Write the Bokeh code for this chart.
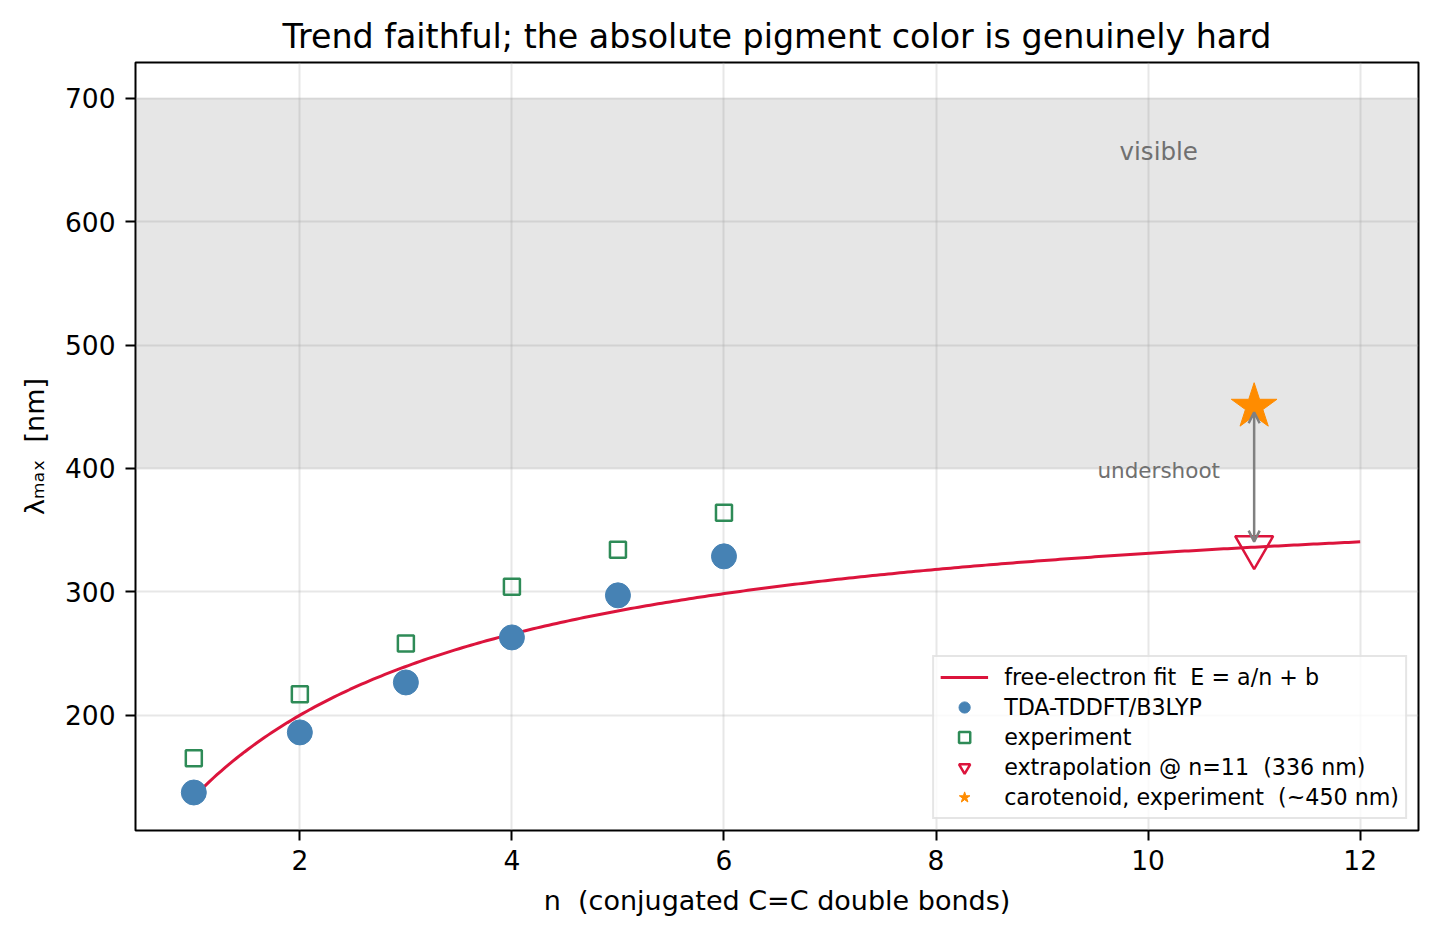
import numpy as np
from bokeh.plotting import figure
from bokeh.models import (Range1d, BoxAnnotation, Arrow, OpenHead, Legend, LegendItem,
                          FixedTicker, ColumnDataSource)
from bokeh.core.properties import value
from bokeh.embed import file_html
from bokeh.resources import INLINE

# ---------------- data ----------------
n_points = [1, 2, 3, 4, 5, 6]
tda_nm = [137.3, 186.0, 226.5, 263.0, 297.1, 328.7]   # TDA-TDDFT/B3LYP
exp_nm = [165, 217, 258, 304, 334, 364]               # experiment
n_extrap = 11
carotenoid_nm = 450                                    # carotenoid, experiment
visible_lo, visible_hi = 400, 700
x_ticks = [2, 4, 6, 8, 10, 12]
y_ticks = [200, 300, 400, 500, 600, 700]
n_fit_max = 12

HC = 1239.84  # eV nm
# free-electron fit E = a/n + b on the TDA energies
a, b = np.polyfit(1.0 / np.array(n_points, float), HC / np.array(tda_nm, float), 1)
n_fit = np.linspace(1, n_fit_max, 300)
lam_fit = HC / (a / n_fit + b)
lam_extrap = HC / (a / n_extrap + b)

FONT = "DejaVu Sans"
NB = "\u00a0"

p = figure(width=1437, height=938, output_backend="svg", toolbar_location=None,
           x_range=Range1d(0.45, 12.55), y_range=Range1d(106.5, 729),
           min_border_left=135, min_border_right=19, min_border_top=62, min_border_bottom=108)

p.title.text = "Trend faithful; the absolute pigment color is genuinely hard"
p.title.text_font = FONT
p.title.text_font_size = "33.3px"
p.title.text_font_style = "normal"
p.title.align = "center"
p.title.text_color = "black"
p.title.standoff = 13

p.outline_line_color = "black"
p.outline_line_width = 2
p.background_fill_color = "white"
p.border_fill_color = "white"

for ax in (p.xaxis[0], p.yaxis[0]):
    ax.major_label_text_font = FONT
    ax.major_label_text_font_size = "26.5px"
    ax.major_label_text_color = "black"
    ax.axis_label_text_font = FONT
    ax.axis_label_text_font_size = "27px"
    ax.axis_label_text_font_style = "normal"
    ax.axis_label_text_color = "black"
    ax.axis_line_color = None
    ax.major_tick_line_color = "black"
    ax.major_tick_line_width = 2
    ax.major_tick_out = 10
    ax.major_tick_in = 0
    ax.minor_tick_line_color = None

p.xaxis.ticker = FixedTicker(ticks=x_ticks)
p.yaxis.ticker = FixedTicker(ticks=y_ticks)
p.xaxis.axis_label = "n " + NB + "(conjugated C=C double bonds)"
p.yaxis.axis_label = "λₘₐₓ " + NB + "[nm]"
p.xaxis.major_label_standoff = 9
p.yaxis.major_label_standoff = 10
p.xaxis.axis_label_standoff = 12
p.yaxis.axis_label_standoff = 12

p.grid.grid_line_color = "#b0b0b0"
p.grid.grid_line_alpha = 0.3
p.grid.grid_line_width = 2

band = BoxAnnotation(bottom=visible_lo, top=visible_hi, fill_color="#808080",
                     fill_alpha=0.2, line_color=None, level="underlay")
p.add_layout(band)

r_fit = p.line(n_fit, lam_fit, line_color="crimson", line_width=3)
r_tda = p.scatter(n_points, tda_nm, marker="circle", size=25, fill_color="steelblue",
                  line_color="steelblue", line_width=1)
r_exp = p.scatter(n_points, exp_nm, marker="square", size=16, fill_color=None,
                  line_color="seagreen", line_width=2.5)
r_ext = p.scatter([n_extrap], [lam_extrap], marker="inverted_triangle", size=38,
                  fill_color=None, line_color="crimson", line_width=2.5)
r_car = p.scatter([n_extrap], [carotenoid_nm], marker="star", size=48,
                  fill_color="darkorange", line_color="darkorange", line_width=1)

shrink = 4.5  # small gap in data units between arrow tips and markers
arrow = Arrow(x_start=n_extrap, y_start=lam_extrap + shrink,
              x_end=n_extrap, y_end=carotenoid_nm - shrink,
              line_color="gray", line_width=2.5,
              start=OpenHead(size=11, line_color="gray", line_width=2.5),
              end=OpenHead(size=11, line_color="gray", line_width=2.5))
p.add_layout(arrow)

notes = ColumnDataSource(dict(x=[10.1, 10.1], y=[657, 398], text=["visible", "undershoot"],
                              size=["24.5px", "21.5px"]))
p.text(x="x", y="y", text="text", source=notes, text_font=value(FONT),
       text_font_size="size", text_color="#707070", text_align="center",
       text_baseline="middle")

legend = Legend(items=[
    LegendItem(label="free-electron fit  E = a/n + b", renderers=[r_fit]),
    LegendItem(label="TDA-TDDFT/B3LYP", renderers=[r_tda]),
    LegendItem(label="experiment", renderers=[r_exp]),
    LegendItem(label=f"extrapolation @ n={n_extrap}  ({lam_extrap:.0f} nm)", renderers=[r_ext]),
    LegendItem(label=f"carotenoid, experiment  (~{carotenoid_nm} nm)", renderers=[r_car]),
], location="bottom_right")
legend.label_text_font = FONT
legend.label_text_font_size = "22.2px"
legend.label_text_color = "black"
legend.label_height = 28
legend.glyph_height = 28
legend.glyph_width = 48
legend.spacing = 2
legend.padding = 6
legend.margin = 11
legend.label_standoff = 16
legend.border_line_color = "#cccccc"
legend.border_line_width = 2
legend.background_fill_alpha = 0.8
p.add_layout(legend, "center")

open("out.html", "w").write(file_html(p, INLINE))
